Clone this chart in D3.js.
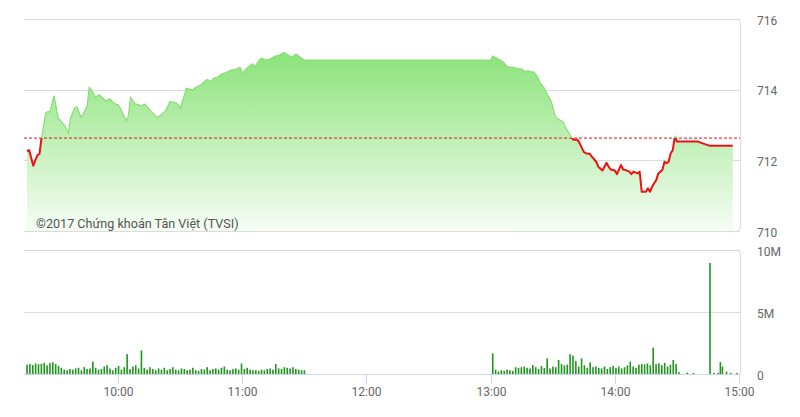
<!DOCTYPE html>
<html><head><meta charset="utf-8">
<script src="https://cdn.jsdelivr.net/npm/d3@7"></script>
<style>
html,body{margin:0;padding:0;background:#fff;}
svg{display:block;font-family:Roboto,"Noto Sans",sans-serif;}
</style></head>
<body><svg id="c" width="800" height="417"></svg>
<script>
// ---- data ----
const priceTimes = ["9:16","9:17","9:19","9:21","9:22","9:23","9:25","9:26","9:27","9:29","9:31","9:33","9:34","9:36","9:37","9:39","9:40","9:42","9:43","9:45","9:46","9:47","9:49","9:51","9:54","9:56","9:58","10:00","10:01","10:04","10:05","10:06","10:08","10:11","10:13","10:14","10:16","10:19","10:21","10:23","10:25","10:28","10:29","10:30","10:32","10:33","10:36","10:38","10:40","10:41","10:43","10:45","10:46","10:48","10:50","10:52","10:54","10:57","10:59","11:00","11:02","11:05","11:06","11:09","11:12","11:14","11:16","11:18","11:20","11:22","11:24","11:26","11:28","11:30","13:00","13:01","13:03","13:06","13:08","13:11","13:13","13:15","13:17","13:18","13:19","13:21","13:23","13:24","13:26","13:27","13:29","13:30","13:31","13:32","13:35","13:36","13:38","13:39","13:40","13:42","13:43","13:45","13:46","13:48","13:49","13:51","13:52","13:54","13:55","13:56","13:57","13:58","14:00","14:01","14:03","14:04","14:05","14:07","14:08","14:09","14:11","14:12","14:13","14:15","14:16","14:17","14:18","14:19","14:20","14:21","14:23","14:24","14:25","14:26","14:27","14:28","14:29","14:30","14:40","14:46","14:57"];
const priceValues = [712.26,712.29,711.85,712.15,712.18,712.64,713.34,713.38,713.37,713.83,713.2,713.06,713.0,712.77,713.2,713.48,713.52,713.23,713.3,713.52,714.06,714.0,713.8,713.85,713.68,713.74,713.61,713.57,713.48,713.11,713.28,713.78,713.61,713.55,713.59,713.52,713.38,713.21,713.3,713.4,713.66,713.63,713.57,713.47,713.85,714.04,713.99,714.08,714.13,714.2,714.29,714.23,714.32,714.35,714.44,714.48,714.54,714.58,714.63,714.46,714.6,714.73,714.65,714.89,714.84,714.89,714.95,714.98,715.05,714.98,714.92,715.01,714.92,714.84,714.84,714.95,714.89,714.79,714.65,714.63,714.6,714.58,714.51,714.54,714.51,714.5,714.32,714.18,714.04,713.9,713.71,713.52,713.28,713.19,713.09,712.95,712.76,712.65,712.58,712.58,712.48,712.24,712.2,712.18,712.1,711.96,711.82,711.71,711.82,711.93,711.82,711.74,711.71,711.61,711.87,711.74,711.73,711.68,711.61,711.68,711.63,711.68,711.11,711.11,711.21,711.11,711.25,711.35,711.44,711.63,711.73,711.96,711.92,711.96,712.2,712.29,712.69,712.53,712.53,712.41,712.41];
const refPrice = 712.63;

// volume (millions) – morning bars 9:16..11:30, afternoon bars 13:01..14:31
const volAMRange = ["9:16","11:30"];
const volAM = [0.75,0.8,0.72,0.85,0.78,0.82,0.9,0.7,0.88,0.95,0.8,0.65,0.5,0.35,
 0.3,0.4,0.35,0.45,0.5,0.3,0.55,0.4,0.45,1.0,0.5,0.35,0.4,0.6,
 0.7,0.45,0.3,0.5,0.65,0.35,0.55,1.6,0.4,0.6,0.7,0.45,1.9,0.5,
 0.35,0.55,0.4,0.3,0.45,0.35,0.5,0.3,0.4,0.55,0.35,0.3,0.45,0.4,
 0.3,0.35,0.5,0.3,0.25,0.4,0.35,0.55,0.3,0.4,0.45,0.35,0.5,0.6,
 0.35,0.3,0.4,0.45,0.35,0.85,0.4,0.5,0.35,0.3,0.3,0.25,0.35,0.3,
 0.4,0.45,0.35,0.8,0.45,0.4,0.55,0.5,0.45,0.55,0.4,0.35,0.3,0.3];
const volPMRange = ["13:01","14:31"];
const volPM = [1.67,0.35,0.2,0.3,0.25,0.35,0.3,0.25,0.55,0.5,
 0.55,0.6,0.5,0.45,0.72,0.55,0.4,0.65,0.5,1.26,
 0.45,0.6,0.55,1.13,0.8,0.7,0.75,1.6,1.48,1.05,
 0.6,1.26,0.7,0.5,0.94,0.55,0.6,0.5,0.45,0.6,
 0.4,0.55,0.65,0.5,0.6,0.45,0.55,0.7,1.0,0.6,
 0.5,0.75,0.8,0.78,0.85,0.7,2.12,0.8,0.86,0.7,
 0.9,0.6,0.75,1.13,0.8,0.15];
const volLateTimes = ["14:35","14:38","14:46","14:48","14:50","14:51","14:52","14:54","14:56","14:59"];
const volLate = [0.1,0.08,8.95,0.08,0.1,0.97,0.6,0.2,0.1,0.08];

const priceTicks = [710,712,714,716];
const volTicks = [0,5,10];
const volTickLabels = ["0","5M","10M"];
const timeTicks = ["10:00","11:00","12:00","13:00","14:00","15:00"];
const copyright = "©2017 Chứng khoán Tân Việt (TVSI)";

// ---- chart ----
const parse = d3.timeParse("%H:%M");
const svg = d3.select("#c");
const L = 24, R = 740;
const x = d3.scaleTime().domain([parse("9:15"), parse("15:00")]).range([L+1, R-1]);
const yP = d3.scaleLinear().domain([710,716]).range([231,19]);
const yV = d3.scaleLinear().domain([0,10]).range([374,250]);

const pts = priceTimes.map((t,i)=>({t:parse(t), v:priceValues[i]}));
const refY = yP(refPrice);

const defs = svg.append("defs");
const grad = defs.append("linearGradient").attr("id","g").attr("gradientUnits","userSpaceOnUse")
  .attr("x1",0).attr("x2",0).attr("y1",19).attr("y2",245);
grad.append("stop").attr("offset",0).attr("stop-color","rgb(119,222,99)");
grad.append("stop").attr("offset",1).attr("stop-color","#ffffff");
defs.append("clipPath").attr("id","above").append("rect").attr("x",0).attr("y",0).attr("width",800).attr("height",refY);
defs.append("clipPath").attr("id","below").append("rect").attr("x",0).attr("y",refY).attr("width",800).attr("height",240-refY);

// price gridlines
svg.append("g").selectAll("line").data(priceTicks).join("line")
  .attr("x1",L).attr("x2",R).attr("y1",d=>Math.round(yP(d))+0.5).attr("y2",d=>Math.round(yP(d))+0.5)
  .attr("stroke","#dcdcdc").attr("stroke-width",1);

// area
const area = d3.area().x(d=>x(d.t)).y0(yP(710)).y1(d=>yP(d.v));
svg.append("path").datum(pts).attr("d",area).attr("fill","url(#g)");

// reference dashed line
svg.append("line").attr("x1",L).attr("x2",R).attr("y1",refY).attr("y2",refY)
  .attr("stroke","#e0141b").attr("stroke-width",1).attr("stroke-dasharray","3,2");

const line = d3.line().x(d=>x(d.t)).y(d=>yP(d.v));
svg.append("path").datum(pts).attr("d",line).attr("fill","none")
  .attr("stroke","#86de72").attr("stroke-width",1.2).attr("clip-path","url(#above)");
svg.append("path").datum(pts).attr("d",line).attr("fill","none")
  .attr("stroke","#ee1111").attr("stroke-width",2).attr("stroke-linejoin","round").attr("clip-path","url(#below)");

// right borders
svg.append("path").attr("d",`M${R-4},19.5 Q${R+0.5},19.5 ${R+0.5},24 L${R+0.5},226 Q${R+0.5},231.5 ${R-4},231.5`)
  .attr("fill","none").attr("stroke","#dcdcdc");
svg.append("path").attr("d",`M${R-4},250.5 Q${R+0.5},250.5 ${R+0.5},255 L${R+0.5},374`)
  .attr("fill","none").attr("stroke","#dcdcdc");

// copyright
svg.append("text").attr("x",36).attr("y",228).attr("font-size",12.6).attr("fill","#555").text(copyright);

// price labels
svg.append("g").selectAll("text").data(priceTicks).join("text")
  .attr("x",757).attr("y",d=>yP(d)+5.5).attr("font-size",12).attr("fill","#666").text(d=>d);

// volume grid
svg.append("g").selectAll("line").data(volTicks.filter(d=>d>0)).join("line")
  .attr("x1",L).attr("x2",R).attr("y1",d=>Math.round(yV(d))+0.5).attr("y2",d=>Math.round(yV(d))+0.5)
  .attr("stroke","#dcdcdc");
svg.append("g").selectAll("text").data(volTicks).join("text")
  .attr("x",757).attr("y",(d)=>yV(d)+5.5).attr("font-size",12).attr("fill","#666").text((d,i)=>volTickLabels[i]);

// volume bars
const bars = [];
const amS = parse(volAMRange[0]).getTime(), amE = parse(volAMRange[1]).getTime();
volAM.forEach((v,i)=>bars.push({t:new Date(amS+(amE-amS)*i/(volAM.length-1)), v}));
const pmS = parse(volPMRange[0]).getTime(), pmE = parse(volPMRange[1]).getTime();
volPM.forEach((v,i)=>bars.push({t:new Date(pmS+(pmE-pmS)*i/(volPM.length-1)), v}));
volLateTimes.forEach((t,i)=>bars.push({t:parse(t), v:volLate[i]}));
svg.append("g").selectAll("rect").data(bars).join("rect")
  .attr("x",d=>x(d.t)-0.8).attr("width",1.6)
  .attr("y",d=>yV(d.v)).attr("height",d=>yV(0)-yV(d.v))
  .attr("fill","#1e961e");

// x axis
const xa = svg.append("g").attr("transform","translate(0,374)");
xa.append("line").attr("x1",L).attr("x2",R).attr("y1",0.5).attr("y2",0.5).attr("stroke","#ccd6eb");
const tk = xa.selectAll("g").data(timeTicks).join("g").attr("transform",d=>`translate(${Math.round(x(parse(d)))+0.5},0)`);
tk.append("line").attr("y1",0).attr("y2",10).attr("stroke","#ccd6eb");
tk.append("text").attr("y",22).attr("text-anchor","middle").attr("font-size",12).attr("fill","#666").text(d=>d);
</script></body></html>
